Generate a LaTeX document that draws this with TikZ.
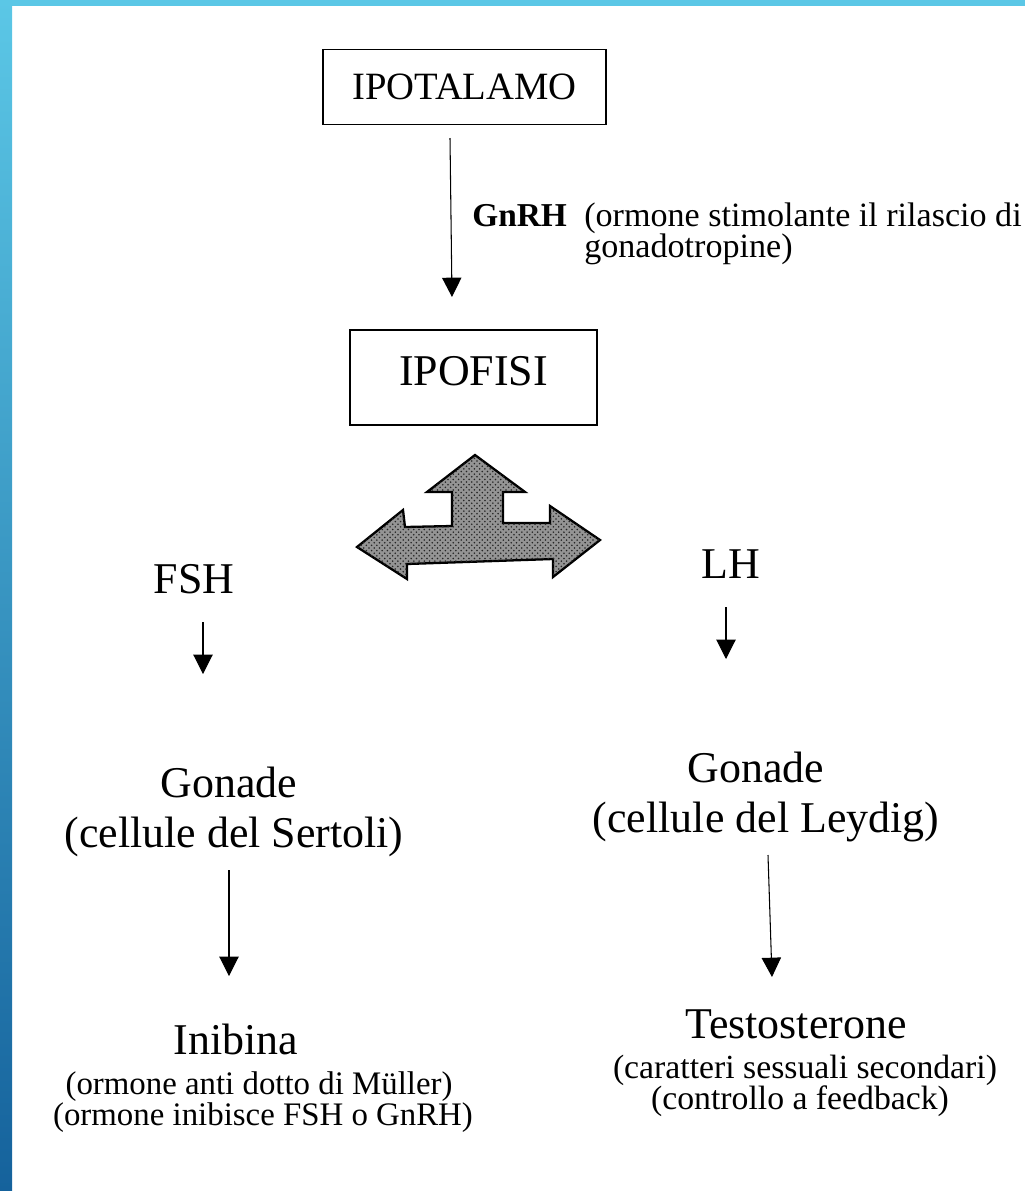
\documentclass[tikz,border=0pt]{standalone}
\usepackage{fontspec}
\setmainfont{Liberation Serif}
\usetikzlibrary{arrows.meta,patterns}
\definecolor{barTop}{HTML}{5BC7E6}
\definecolor{barBot}{HTML}{15629C}
\tikzset{
  organ/.style={draw,line width=0.8pt,inner sep=0pt},
  big/.style={font=\fontsize{25}{28}\selectfont,anchor=base,inner sep=0pt},
  small/.style={font=\fontsize{18.7}{22}\selectfont,anchor=base,inner sep=0pt},
  note/.style={font=\fontsize{19.4}{16.4}\selectfont,anchor=base west,inner sep=0pt},
  arr/.style={-{Triangle[width=11pt,length=11pt]},line width=0.6pt},
}
\begin{document}
\begin{tikzpicture}[x=0.02cm,y=-0.02cm]
\useasboundingbox (0,0) rectangle (1025,1191);
% cornice blu
\shade[top color=barTop,bottom color=barBot] (0,0) rectangle (12,1191);
\fill[barTop] (12,0) rectangle (1025,6);

% ipotalamo -> ipofisi
\node[organ,minimum width=5.66cm,minimum height=1.5cm,text depth=0pt,
  font=\fontsize{22}{26}\selectfont] (ipot) at (464.5,87) {IPOTALAMO};
\node[organ,minimum width=4.94cm,minimum height=1.9cm,text depth=0.28cm,
  font=\fontsize{25}{28}\selectfont] (ipof) at (473.5,377.5) {IPOFISI};
\coordinate (gA) at (450,138);
\coordinate (gB) at (452,297);
\draw[arr] (gA) -- (gB);
\node[note,font=\bfseries\fontsize{19}{22}\selectfont] (gnrh) at (472,226) {GnRH};
\node[note,anchor=north west,align=left] (gnrhA) at (584,202)
  {(ormone stimolante il rilascio di\\[-0.5pt]gonadotropine)};

% freccia a tre punte
\filldraw[line width=1.3pt,fill=black!42,postaction={pattern=crosshatch dots,pattern color=black!85}]
  (357,547) -- (403,510) -- (405,527) -- (452,526) -- (452,492) -- (427,492)
  -- (475,455) -- (525,492) -- (503,492) -- (503,523) -- (550,523) -- (550,506)
  -- (600,540) -- (553,577) -- (553,559) -- (407,564) -- (407,579) -- cycle;

% FSH / LH
\node[big] (fsh) at (194,593) {FSH};
\node[big] (lh) at (731,578) {LH};
\coordinate (fA) at (203,622);
\coordinate (fB) at (203,674);
\coordinate (lA) at (726,607);
\coordinate (lB) at (726,659);
\draw[arr] (fA) -- (fB);
\draw[arr] (lA) -- (lB);

% gonadi
\node[big] (gonS) at (229,797) {Gonade};
\node[big] (celS) at (234,847) {(cellule del Sertoli)};
\node[big] (gonL) at (756,782) {Gonade};
\node[big] (celL) at (766,832) {(cellule del Leydig)};
\coordinate (sA) at (229,870);
\coordinate (sB) at (229,976);
\coordinate (yA) at (768,855);
\coordinate (yB) at (772,977);
\draw[arr] (sA) -- (sB);
\draw[arr] (yA) -- (yB);

% ormoni prodotti
\node[big] (inib) at (236,1054) {Inibina};
\node[small] (inibA) at (259,1094) {(ormone anti dotto di Müller)};
\node[small] (inibB) at (263,1125) {(ormone inibisce FSH o GnRH)};
\node[big] (testo) at (796,1038) {Testosterone};
\node[small,font=\fontsize{19.2}{22}\selectfont] (testoA) at (805,1078) {(caratteri sessuali secondari)};
\node[small,font=\fontsize{19.2}{22}\selectfont] (testoB) at (800,1109) {(controllo a feedback)};
\end{tikzpicture}
\end{document}
